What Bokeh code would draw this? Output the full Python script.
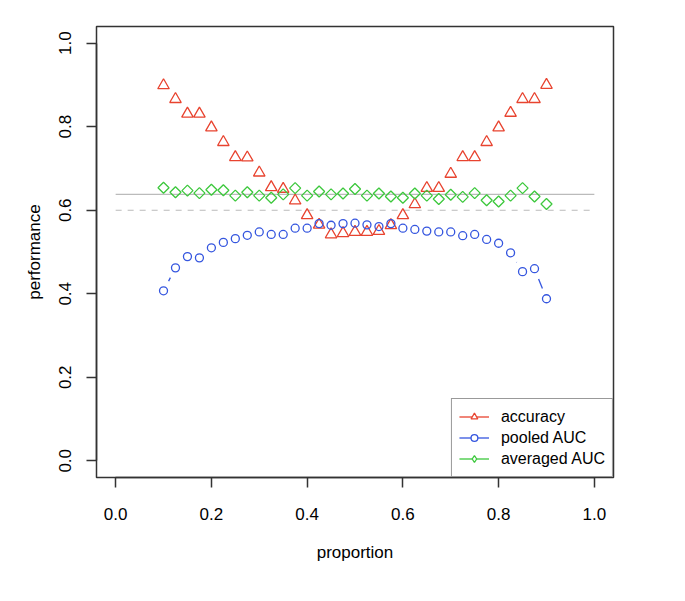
import numpy as np
from bokeh.plotting import figure
from bokeh.models import Range1d, Legend, LegendItem, ColumnDataSource, FixedTicker
from bokeh.embed import file_html
from bokeh.resources import INLINE

# ---- data ----
proportion = [0.1, 0.125, 0.15, 0.175, 0.2, 0.225, 0.25, 0.275, 0.3, 0.325, 0.35,
              0.375, 0.4, 0.425, 0.45, 0.475, 0.5, 0.525, 0.55, 0.575, 0.6, 0.625,
              0.65, 0.675, 0.7, 0.725, 0.75, 0.775, 0.8, 0.825, 0.85, 0.875, 0.9]
accuracy = [0.899, 0.866, 0.831, 0.831, 0.798, 0.763, 0.727, 0.726, 0.690, 0.655, 0.651,
            0.623, 0.588, 0.565, 0.542, 0.545, 0.548, 0.548, 0.550, 0.564, 0.588, 0.614,
            0.653, 0.653, 0.687, 0.727, 0.727, 0.763, 0.798, 0.833, 0.866, 0.866, 0.900]
pooled_auc = [0.407, 0.462, 0.489, 0.486, 0.510, 0.523, 0.532, 0.540, 0.548, 0.542, 0.542,
              0.557, 0.557, 0.568, 0.564, 0.568, 0.569, 0.565, 0.561, 0.568, 0.557, 0.554,
              0.550, 0.548, 0.548, 0.539, 0.542, 0.530, 0.521, 0.498, 0.453, 0.460, 0.388]
averaged_auc = [0.654, 0.643, 0.647, 0.641, 0.649, 0.648, 0.635, 0.643, 0.635, 0.630, 0.638,
                0.653, 0.635, 0.645, 0.638, 0.640, 0.651, 0.635, 0.640, 0.633, 0.630, 0.640,
                0.635, 0.627, 0.637, 0.632, 0.641, 0.624, 0.621, 0.635, 0.653, 0.633, 0.615]
ref_x = [0.0, 1.0]
ref_solid = 0.638
ref_dashed = 0.600
ticks = [0.0, 0.2, 0.4, 0.6, 0.8, 1.0]
tick_labels = {0.0: "0.0", 0.2: "0.2", 0.4: "0.4", 0.6: "0.6", 0.8: "0.8", 1.0: "1.0"}

# ---- layout ----
W, H = 669, 585
FL, FT, FW, FH = 96, 26, 517, 451
X0, X1 = -0.04, 1.04
Y0, Y1 = -0.04, 1.04
FONT = "Liberation Sans"

RED = "#E8432F"
BLUE = "#3556DF"
GREEN = "#3CC83C"

p = figure(width=W, height=H, output_backend="svg", toolbar_location=None,
           x_range=Range1d(X0, X1), y_range=Range1d(Y0, Y1),
           min_border_left=FL, min_border_top=FT,
           min_border_right=W - FL - FW, min_border_bottom=H - FT - FH)
p.background_fill_color = "white"
p.border_fill_color = "white"
p.outline_line_color = "#333333"
p.outline_line_width = 1.5
p.xgrid.visible = False
p.ygrid.visible = False

for ax in (p.xaxis[0], p.yaxis[0]):
    ax.ticker = FixedTicker(ticks=ticks)
    ax.major_label_overrides = tick_labels
    ax.bounds = (0, 1)
    ax.axis_line_color = "#333333"
    ax.axis_line_width = 1.5
    ax.major_tick_line_color = "#333333"
    ax.major_tick_line_width = 1.5
    ax.major_tick_in = 0
    ax.major_tick_out = 10
    ax.minor_tick_line_color = None
    ax.major_label_text_font = FONT
    ax.major_label_text_font_size = "17px"
    ax.major_label_text_color = "black"
    ax.axis_label_text_font = FONT
    ax.axis_label_text_font_size = "17px"
    ax.axis_label_text_font_style = "normal"
    ax.axis_label_text_color = "black"

p.xaxis.axis_label = "proportion"
p.yaxis.axis_label = "performance"
p.xaxis.major_label_standoff = 20
p.xaxis.axis_label_standoff = 20
p.yaxis.major_label_standoff = 15
p.yaxis.major_label_orientation = "vertical"
p.yaxis.axis_label_standoff = 13

# reference lines
p.line(ref_x, [ref_solid, ref_solid], line_color="#BBBBBB", line_width=1.2)
p.line(ref_x, [ref_dashed, ref_dashed], line_color="#BBBBBB", line_width=1.2,
       line_dash="6 6")

# R type="b": connecting segments with a gap around each point
sx = FW / (X1 - X0)
sy = FH / (Y1 - Y0)
GAP = 11.0


def gapped(xs, ys):
    a0, b0, a1, b1 = [], [], [], []
    for i in range(len(xs) - 1):
        dx = (xs[i + 1] - xs[i]) * sx
        dy = (ys[i + 1] - ys[i]) * sy
        d = float(np.hypot(dx, dy))
        if d > 2 * GAP:
            f = GAP / d
            ddx = xs[i + 1] - xs[i]
            ddy = ys[i + 1] - ys[i]
            a0.append(xs[i] + f * ddx)
            b0.append(ys[i] + f * ddy)
            a1.append(xs[i + 1] - f * ddx)
            b1.append(ys[i + 1] - f * ddy)
    return ColumnDataSource(dict(x0=a0, y0=b0, x1=a1, y1=b1))


items = []
series = [
    ("accuracy", accuracy, RED, "triangle", 11.5, 0.0, "triangle"),
    ("pooled AUC", pooled_auc, BLUE, "circle", 8, 0.0, "circle"),
    ("averaged AUC", averaged_auc, GREEN, "square", 7.8, np.pi / 4, "diamond"),
]
for name, ys, col, mk, sz, ang, legmk in series:
    p.segment(x0="x0", y0="y0", x1="x1", y1="y1", source=gapped(proportion, ys),
              line_color=col, line_width=1.3)
    p.scatter(proportion, ys, marker=mk, size=sz, angle=ang,
              fill_color=None, line_color=col, line_width=1.3)
    # legend-only glyphs (no visible data)
    lg_line = p.line([np.nan], [np.nan], line_color=col, line_width=1.3)
    lg_mark = p.scatter([np.nan], [np.nan], marker=legmk, size=sz,
                        fill_color="white", line_color=col, line_width=1.3)
    items.append(LegendItem(label=name, renderers=[lg_line, lg_mark]))

legend = Legend(items=items, location="bottom_right", margin=0,
                padding=7, spacing=0, glyph_width=30, glyph_height=17,
                label_height=21, label_standoff=12,
                label_text_font=FONT, label_text_font_size="16px",
                label_text_color="black",
                border_line_color="#333333", border_line_width=1.2,
                background_fill_color="white", background_fill_alpha=1.0)
p.add_layout(legend)

open("out.html", "w").write(file_html(p, INLINE))
